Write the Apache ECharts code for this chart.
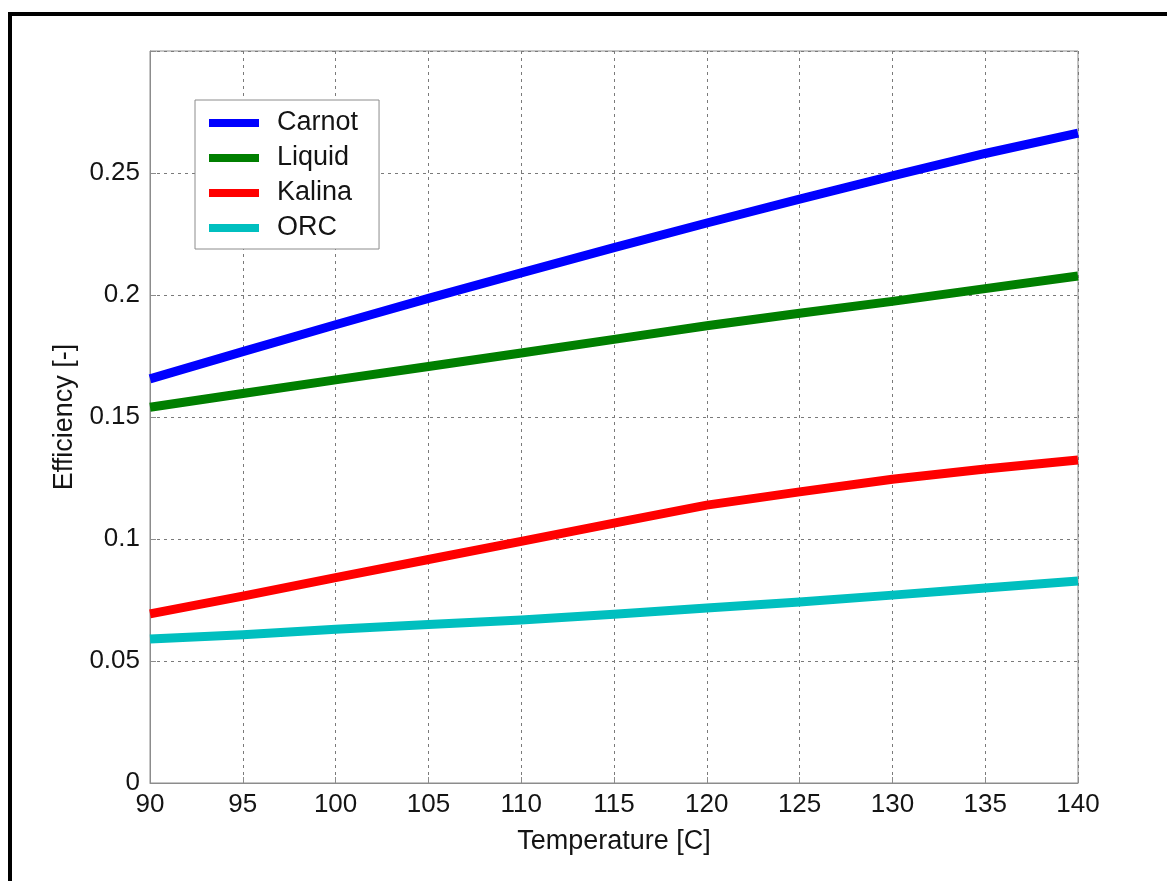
<!DOCTYPE html>
<html>
<head>
<meta charset="utf-8">
<title>Efficiency vs Temperature</title>
<script src="https://cdn.jsdelivr.net/npm/echarts@6/dist/echarts.min.js"></script>
<style>
  html, body { margin: 0; padding: 0; background: #ffffff; }
  #chart { width: 1167px; height: 881px; }
</style>
</head>
<body>
<div id="chart"></div>
<script>
// Source temperature [C]
const temperatures = [90, 95, 100, 105, 110, 115, 120, 125, 130, 135, 140];

// Cycle efficiencies [-]
const carnot = [0.1656, 0.1768, 0.1878, 0.1986, 0.2091, 0.2194, 0.2295, 0.2393, 0.2488, 0.2580, 0.2663];
const liquid = [0.154, 0.1596, 0.1652, 0.1707, 0.1762, 0.1818, 0.1874, 0.1925, 0.1974, 0.2026, 0.2078];
const kalina = [0.0693, 0.0766, 0.0842, 0.0916, 0.0990, 0.1065, 0.1139, 0.1193, 0.1245, 0.1287, 0.1324];
const orc = [0.059, 0.0608, 0.0630, 0.0650, 0.0668, 0.0692, 0.0717, 0.0742, 0.0770, 0.0799, 0.0828];

const seriesNames = ['Carnot', 'Liquid', 'Kalina', 'ORC'];
const seriesColors = ['#0000ff', '#007f00', '#ff0000', '#00bfbf'];
const seriesValues = [carnot, liquid, kalina, orc];

const FONT = '"Liberation Sans", Arial, sans-serif';
const TEXT = '#141414';

function pairs(values) {
  return temperatures.map((t, i) => [t, values[i]]);
}

const chart = echarts.init(document.getElementById('chart'), null, { renderer: 'canvas' });

chart.setOption({
  backgroundColor: '#ffffff',
  animation: false,
  textStyle: { fontFamily: FONT },
  graphic: [
    {
      type: 'rect',
      shape: { x: 10, y: 14, width: 1200, height: 1000 },
      style: { fill: 'none', stroke: '#000000', lineWidth: 4 },
      silent: true,
      z: 100
    }
  ],
  grid: {
    left: 150,
    right: 89,
    top: 51,
    bottom: 98,
    show: true,
    borderColor: '#8c8c8c',
    borderWidth: 1,
    backgroundColor: '#ffffff'
  },
  legend: {
    data: seriesNames,
    orient: 'vertical',
    left: 195,
    top: 100,
    icon: 'rect',
    itemWidth: 50,
    itemHeight: 8,
    itemGap: 7,
    padding: [9, 21, 7, 14],
    backgroundColor: '#ffffff',
    borderColor: '#8c8c8c',
    borderWidth: 1,
    textStyle: {
      fontFamily: FONT,
      fontSize: 27,
      lineHeight: 28,
      color: TEXT,
      padding: [0, 0, 0, 13]
    }
  },
  xAxis: {
    type: 'value',
    min: 90,
    max: 140,
    interval: 5,
    name: 'Temperature [C]',
    nameLocation: 'middle',
    nameGap: 45,
    nameTextStyle: { fontFamily: FONT, fontSize: 27, color: TEXT },
    axisLine: { show: true, lineStyle: { color: '#8c8c8c', width: 1 } },
    axisTick: { show: true, inside: true, length: 6, lineStyle: { color: '#8c8c8c' } },
    axisLabel: { fontFamily: FONT, fontSize: 26, color: TEXT, margin: 9 },
    splitLine: { show: true, lineStyle: { color: '#7a7a7a', width: 1, type: [3, 4] } }
  },
  yAxis: {
    type: 'value',
    min: 0,
    max: 0.3,
    interval: 0.05,
    name: 'Efficiency [-]',
    nameLocation: 'middle',
    nameGap: 72,
    nameTextStyle: { fontFamily: FONT, fontSize: 27, color: TEXT },
    axisLine: { show: true, lineStyle: { color: '#8c8c8c', width: 1 } },
    axisTick: { show: true, inside: true, length: 6, lineStyle: { color: '#8c8c8c' } },
    axisLabel: {
      fontFamily: FONT,
      fontSize: 26,
      color: TEXT,
      margin: 10,
      formatter: function (v) {
        if (v > 0.29) return '';
        return String(Math.round(v * 100) / 100);
      }
    },
    splitLine: { show: true, lineStyle: { color: '#7a7a7a', width: 1, type: [3, 4] } }
  },
  series: seriesNames.map((name, i) => ({
    name: name,
    type: 'line',
    data: pairs(seriesValues[i]),
    showSymbol: false,
    symbol: 'none',
    smooth: false,
    color: seriesColors[i],
    lineStyle: { color: seriesColors[i], width: 9, cap: 'butt', join: 'round' },
    z: 3
  }))
});
</script>
</body>
</html>
